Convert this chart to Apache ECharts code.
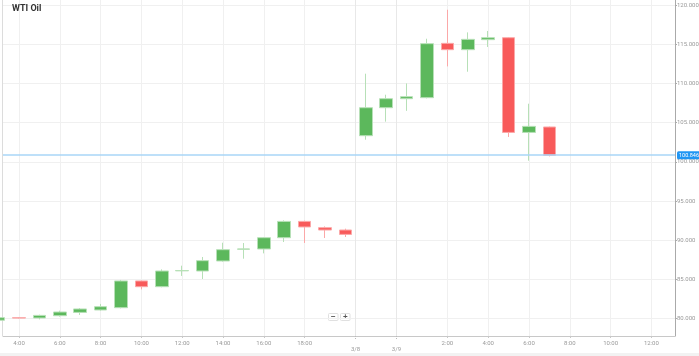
<!DOCTYPE html>
<html>
<head>
<meta charset="utf-8">
<script src="https://cdn.jsdelivr.net/npm/echarts@6/dist/echarts.min.js"></script>
<style>
html,body{margin:0;padding:0;background:#fff;}
#chart{width:699px;height:356px;}
</style>
</head>
<body>
<div id="chart"></div>
<script>
// hourly slot index of each candle (weekend gap removed)
var slots = [0,1,2,3,4,5,6,7,8,9,10,11,12,13,14,15,16,17,18,19,20,21,22,23,24,25,26,27];
var opens  = [79.80,80.12,80.09,80.38,80.80,81.11,81.40,84.81,84.08,86.10,86.08,87.36,88.86,88.89,90.33,92.41,91.61,91.31,103.34,106.91,108.06,108.19,115.12,114.31,115.59,115.84,103.76,104.45];
var closes = [80.13,80.08,80.42,80.85,81.24,81.53,84.81,84.08,86.08,86.14,87.40,88.80,88.90,90.33,92.41,91.70,91.31,90.75,106.91,108.06,108.32,115.08,114.31,115.63,115.84,103.76,104.53,100.846];
var lows   = [79.75,80.02,79.91,80.26,80.47,81.02,81.31,83.74,84.00,85.45,85.06,87.27,87.65,88.33,89.78,89.66,90.29,90.42,102.83,105.13,106.51,108.10,112.18,111.50,114.66,103.18,100.15,100.70];
var highs  = [80.16,80.20,80.51,81.02,81.36,81.88,84.94,84.85,86.29,86.76,87.87,89.69,89.65,90.42,92.54,92.50,91.77,91.48,111.25,108.57,110.01,115.71,119.41,116.52,116.70,115.93,107.42,104.50];

var hourTickSlots = [1,3,5,7,9,11,13,15,22,24,26,28,30,32];
var hourTickLabels = ['4:00','6:00','8:00','10:00','12:00','14:00','16:00','18:00','2:00','4:00','6:00','8:00','10:00','12:00'];
var dateTickSlots = [17.5,19.5];
var dateTickLabels = ['3/8','3/9'];
var priceTicks = [80,85,90,95,100,105,110,115,120];
var lastPrice = 100.846;

var candleData = slots.map(function(s,i){ return [s, opens[i], closes[i], lows[i], highs[i]]; });

function labelFrom(vals, labels){
  return function(v){
    for (var i=0;i<vals.length;i++){ if (Math.abs(vals[i]-v)<1e-6) return labels[i]; }
    return '';
  };
}

var chart = echarts.init(document.getElementById('chart'), null, {renderer:'canvas'});
var gridColor = '#f0f0f0';
var option = {
  animation:false,
  backgroundColor:'#ffffff',
  title:{text:'WTI Oil', left:12, top:4, padding:0, textStyle:{fontSize:9, fontWeight:'bold', color:'#333', fontFamily:'Roboto, sans-serif'}},
  grid:{left:3, right:24, top:0, bottom:20, outerBoundsMode:'none', containLabel:false},
  xAxis:[{
    type:'value', min:0.2157, max:33.157, position:'bottom',
    axisLine:{show:true, lineStyle:{color:'#c8c8c8', width:1}},
    axisTick:{show:true, length:2, customValues:hourTickSlots, lineStyle:{color:'#c8c8c8'}},
    axisLabel:{show:true, customValues:hourTickSlots, formatter:labelFrom(hourTickSlots,hourTickLabels), fontSize:6, color:'#999', margin:4, fontFamily:'Roboto, sans-serif'},
    splitLine:{show:true, lineStyle:{color:gridColor, width:1}}
  },{
    type:'value', min:0.2157, max:33.157, position:'bottom',
    axisLine:{show:false},
    axisTick:{show:true, length:4, customValues:dateTickSlots, lineStyle:{color:'#bbb', type:'dotted'}},
    axisLabel:{show:true, customValues:dateTickSlots, formatter:labelFrom(dateTickSlots,dateTickLabels), fontSize:6, color:'#999', margin:10, fontFamily:'Roboto, sans-serif'},
    splitLine:{show:true, lineStyle:{color:'#e8e8e8', width:1}}
  }],
  yAxis:{
    type:'value', position:'right', min:77.79, max:120.65, scale:true,
    axisLine:{show:true, lineStyle:{color:'#aaa', width:1}},
    axisTick:{show:true, length:2, customValues:priceTicks, lineStyle:{color:'#aaa'}},
    axisLabel:{show:true, customValues:priceTicks, formatter:function(v){return v.toFixed(3);}, fontSize:6, color:'#999', margin:2, fontFamily:'Roboto, sans-serif'},
    splitLine:{show:true, lineStyle:{color:gridColor, width:1}}
  },
  series:[{
    type:'candlestick',
    xAxisIndex:0,
    barWidth:13,
    data:candleData,
    itemStyle:{
      color:'#5cb85c', color0:'#f85a5a',
      borderColor:'#b7e0b7', borderColor0:'#fba8a8',
      borderWidth:1
    },
    markLine:{
      silent:true, symbol:['none','none'],
      lineStyle:{color:'#a9d6f7', width:1.5, type:'solid'},
      label:{show:true, position:'end', distance:2, formatter:lastPrice.toFixed(3),
        backgroundColor:'#2196f3', color:'#fff', fontSize:5.5, padding:[1,2,1,2], borderRadius:1.5, fontFamily:'Roboto, sans-serif'},
      data:[{yAxis:lastPrice}]
    }
  }],
  graphic:[
    {type:'line', shape:{x1:2.5,y1:0,x2:2.5,y2:336}, style:{stroke:'#dcdcdc', lineWidth:1}, silent:true},
    {type:'rect', shape:{x:0,y:353,width:699,height:3}, style:{fill:'#f2f2f2'}, silent:true},
    {type:'group', left:328, top:313, children:[
      {type:'rect', shape:{x:0,y:0,width:9.5,height:7,r:1}, style:{fill:'#fff', stroke:'#e0e0e0', lineWidth:1}},
      {type:'text', x:4.75, y:3.5, style:{text:'−', fontSize:8, fontWeight:'bold', fill:'#555', align:'center', verticalAlign:'middle'}},
      {type:'rect', shape:{x:12,y:0,width:9.5,height:7,r:1}, style:{fill:'#fff', stroke:'#e0e0e0', lineWidth:1}},
      {type:'text', x:16.75, y:3.5, style:{text:'+', fontSize:8, fontWeight:'bold', fill:'#555', align:'center', verticalAlign:'middle'}}
    ]}
  ]
};
chart.setOption(option);
</script>
</body>
</html>
